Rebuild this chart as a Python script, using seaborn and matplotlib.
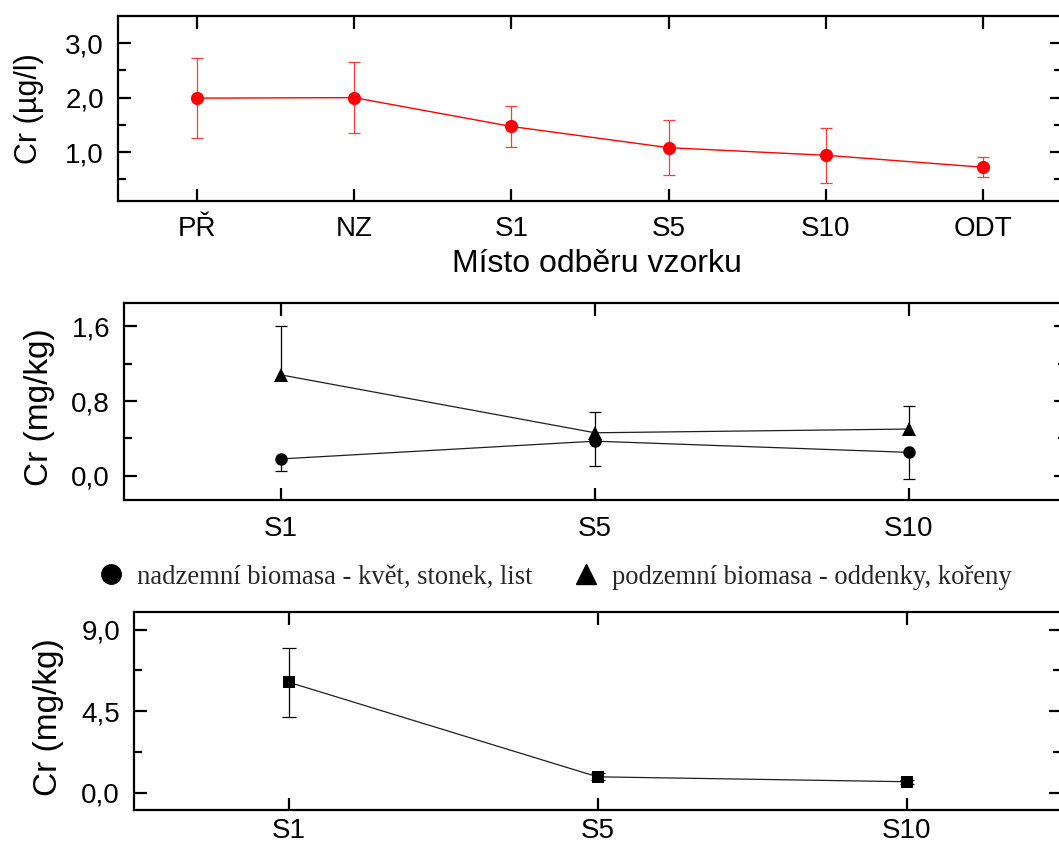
import numpy as np
import seaborn as sns
import matplotlib.pyplot as plt
from matplotlib.lines import Line2D
from matplotlib.ticker import FixedLocator

# --- data -----------------------------------------------------------------
water_sites = ["PŘ", "NZ", "S1", "S5", "S10", "ODT"]
water_cr = [1.99, 2.00, 1.47, 1.08, 0.94, 0.72]
water_err = [0.73, 0.65, 0.37, 0.50, 0.51, 0.18]

plant_sites = ["S1", "S5", "S10"]
above_cr = [0.18, 0.37, 0.25]          # nadzemní biomasa
above_err_low = [0.13, 0.27, 0.28]
below_cr = [1.08, 0.46, 0.50]          # podzemní biomasa
below_err_high = [0.52, 0.22, 0.25]

sed_sites = ["S1", "S5", "S10"]
sed_cr = [6.10, 0.88, 0.61]
sed_err = [1.90, 0.20, 0.10]

water_yticks = [1.0, 2.0, 3.0]
water_yticklabels = ["1,0", "2,0", "3,0"]
plant_yticks = [0.0, 0.8, 1.6]
plant_yticklabels = ["0,0", "0,8", "1,6"]
sed_yticks = [0.0, 4.5, 9.0]
sed_yticklabels = ["0,0", "4,5", "9,0"]

legend_labels = ["nadzemní biomasa - květ, stonek, list",
                 "podzemní biomasa - oddenky, kořeny"]

# --- style ----------------------------------------------------------------
sns.set_theme(style="ticks")
plt.rcParams["font.family"] = ["Liberation Sans", "DejaVu Sans"]
plt.rcParams["axes.linewidth"] = 1.6

W, H = 1059, 847
fig = plt.figure(figsize=(W / 100, H / 100), dpi=100)


def px_axes(left, right, top, bottom):
    return fig.add_axes([left / W, 1 - bottom / H, (right - left) / W, (bottom - top) / H])


ax1 = px_axes(118, 1062, 16, 201)
ax2 = px_axes(124, 1066, 303, 500)
ax3 = px_axes(134, 1061, 612, 810)


def style_axes(ax, cats, yticks, ylabels, yminor, ylim, xpad):
    pos = np.arange(len(cats))
    ax.set_xlim(-0.5, len(cats) - 0.5)
    ax.set_ylim(*ylim)
    ax.set_xticks(pos)
    ax.set_xticklabels(cats, va="baseline")
    ax.set_yticks(yticks)
    ax.set_yticklabels(ylabels)
    ax.yaxis.set_minor_locator(FixedLocator(yminor))
    for sp in ax.spines.values():
        sp.set_visible(True)
        sp.set_color("black")
        sp.set_linewidth(1.6)
    ax.tick_params(which="both", direction="in", top=True, right=True,
                   width=1.6, color="black", labelcolor="black")
    ax.tick_params(which="major", length=9, labelsize=20, pad=10)
    ax.tick_params(axis="x", which="major", pad=xpad)
    ax.tick_params(which="minor", length=5.5)
    ax.grid(False)


# --- panel 1: water ---------------------------------------------------------
x1 = np.arange(len(water_sites))
ax1.errorbar(x1, water_cr, yerr=water_err, fmt="none", ecolor="#ff3b3b",
             elinewidth=0.9, capsize=4.4, capthick=0.9, zorder=2)
sns.lineplot(x=x1, y=water_cr, ax=ax1, color="red", linewidth=1.0,
             marker="o", markersize=9.5, markeredgewidth=0, errorbar=None, zorder=3)
style_axes(ax1, water_sites, water_yticks, water_yticklabels, [0.5, 1.5, 2.5],
           (0.1, 3.5), 25)
ax1.set_ylabel("Cr (µg/l)", fontsize=22, color="black")
ax1.yaxis.set_label_coords((44 - 118) / 944, 0.5)
ax1.set_xlabel("Místo odběru vzorku", fontsize=23, color="black", va="baseline")
ax1.xaxis.set_label_coords((597 - 118) / 944, (201 - 272) / 185)

# --- panel 2: plant biomass --------------------------------------------------
x2 = np.arange(len(plant_sites))
line_col = "#1e1e1e"
above_low = np.array(above_cr) - np.array(above_err_low)
below_high = np.array(below_cr) + np.array(below_err_high)
ax2.vlines(x2, above_low, above_cr, color="black", linewidth=0.9, zorder=2)
ax2.vlines(x2, below_cr, below_high, color="black", linewidth=0.9, zorder=2)
ax2.plot(x2, above_low, ls="none", marker="_", markersize=8.9,
         markeredgewidth=0.9, color="black", zorder=2)
ax2.plot(x2, below_high, ls="none", marker="_", markersize=8.9,
         markeredgewidth=0.9, color="black", zorder=2)
sns.lineplot(x=x2, y=above_cr, ax=ax2, color=line_col, linewidth=0.9,
             marker="o", markersize=9, markeredgewidth=0, markerfacecolor="black",
             errorbar=None, zorder=3)
sns.lineplot(x=x2, y=below_cr, ax=ax2, color=line_col, linewidth=0.9,
             marker="^", markersize=10.5, markeredgewidth=0, markerfacecolor="black",
             errorbar=None, zorder=3)
style_axes(ax2, plant_sites, plant_yticks, plant_yticklabels, [0.4, 1.2],
           (-0.26, 1.85), 26)
ax2.set_ylabel("Cr (mg/kg)", fontsize=24, color="black")
ax2.yaxis.set_label_coords((55 - 124) / 942, 0.47)
ax2.set_xlabel("")

# legend between panels 2 and 3
handles = [Line2D([], [], ls="none", marker="o", markersize=14, color="black"),
           Line2D([], [], ls="none", marker="^", markersize=14, color="black")]
fig.legend(handles, legend_labels, loc="center left",
           bbox_to_anchor=(100 / W, 1 - 577 / H), ncol=2, frameon=False,
           borderpad=0, borderaxespad=0, handlelength=0.8, handletextpad=0.58,
           columnspacing=1.6, prop={"family": "Liberation Serif", "size": 19.2})

# --- panel 3 -----------------------------------------------------------------
x3 = np.arange(len(sed_sites))
ax3.errorbar(x3, sed_cr, yerr=sed_err, fmt="none", ecolor="black",
             elinewidth=0.9, capsize=4.8, capthick=0.9, zorder=2)
sns.lineplot(x=x3, y=sed_cr, ax=ax3, color=line_col, linewidth=0.9,
             marker="s", markersize=9, markeredgewidth=0, markerfacecolor="black",
             errorbar=None, zorder=3)
style_axes(ax3, sed_sites, sed_yticks, sed_yticklabels, [2.25, 6.75],
           (-0.95, 9.97), 20.5)
ax3.set_ylabel("Cr (mg/kg)", fontsize=24, color="black")
ax3.yaxis.set_label_coords((64 - 134) / 927, 0.47)
ax3.set_xlabel("")

fig.savefig("out.png", dpi=100, facecolor="white")
